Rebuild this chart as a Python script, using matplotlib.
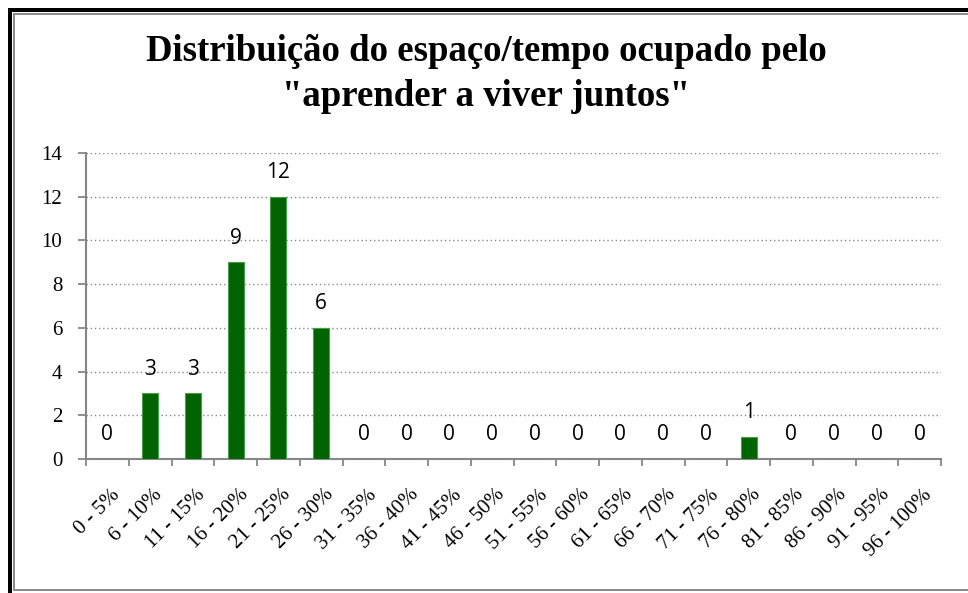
import matplotlib
matplotlib.use("Agg")
import matplotlib.pyplot as plt
import matplotlib.transforms as mtransforms
from matplotlib.patches import Rectangle
import numpy as np

# data
categories = ["0 - 5%", "6 - 10%", "11 - 15%", "16 - 20%", "21 - 25%", "26 - 30%",
              "31 - 35%", "36 - 40%", "41 - 45%", "46 - 50%", "51 - 55%", "56 - 60%",
              "61 - 65%", "66 - 70%", "71 - 75%", "76 - 80%", "81 - 85%", "86 - 90%",
              "91 - 95%", "96 - 100%"]
counts = [0, 3, 3, 9, 12, 6, 0, 0, 0, 0, 0, 0, 0, 0, 0, 1, 0, 0, 0, 0]
title = "Distribuição do espaço/tempo ocupado pelo\n\"aprender a viver juntos\""
yticks = [0, 2, 4, 6, 8, 10, 12, 14]

W, H = 968, 593
fig = plt.figure(figsize=(W / 100, H / 100), dpi=100)
fig.patch.set_facecolor("white")

# outer frame (black L + thin gray inner box)
def px_rect(x0, y0, w, h, color):
    fig.patches.append(Rectangle((x0 / W, 1 - (y0 + h) / H), w / W, h / H,
                                 transform=fig.transFigure, color=color, lw=0))

px_rect(8, 8, 4, H - 8, "black")
px_rect(8, 8, W - 8, 4, "black")
px_rect(13, 13, 2, H - 13 - 3, "#8c8c8c")
px_rect(13, 13, W - 13, 2, "#8c8c8c")
px_rect(13, 589, W - 13, 2, "#8c8c8c")

ax = fig.add_axes([86 / W, 1 - 459 / H, (941 - 86) / W, (459 - 153) / H])
x = np.arange(len(counts))
ax.bar(x, counts, width=0.37, color="#006400", edgecolor="#4c9a4c", linewidth=0.8, zorder=3)

for xi, v in zip(x, counts):
    ax.annotate(str(v), (xi, v), xytext=(0, 13.5), textcoords="offset points",
                ha="center", va="baseline", fontsize=15, family="Open Sans", color="black")

ax.set_xlim(-0.5, len(counts) - 0.5)
ax.set_ylim(0, 14)
ax.set_yticks(yticks)
ax.set_yticklabels([str(t) for t in yticks], family="Liberation Serif", fontsize=15)
ax.yaxis.grid(True, linestyle=(0, (1, 2)), color="#8a8a8a", linewidth=1.0, zorder=0)

ax.set_xticks(x)
ax.set_xticklabels(categories, rotation=45, ha="right", va="top",
                   rotation_mode="anchor", family="Liberation Serif", fontsize=15)
ax.set_xticks(np.arange(-0.5, len(counts)), minor=True)
ax.tick_params(axis="x", which="major", length=0, pad=19)
ax.tick_params(axis="x", which="minor", length=5, width=1.3, color="#868686")
ax.tick_params(axis="y", length=6, width=1.3, color="#868686", pad=11)
shift = mtransforms.ScaledTranslation(3 / 100, 0, fig.dpi_scale_trans)
for lab in ax.get_xticklabels():
    lab.set_transform(lab.get_transform() + shift)

for s in ["top", "right"]:
    ax.spines[s].set_visible(False)
for s in ["left", "bottom"]:
    ax.spines[s].set_color("#868686")
    ax.spines[s].set_linewidth(1.5)

fig.text(486 / W, 1 - 74 / H, title, ha="center", va="center", fontsize=26.5,
         fontweight="bold", family="Liberation Serif", linespacing=1.4)

fig.savefig("out.png", dpi=100)
